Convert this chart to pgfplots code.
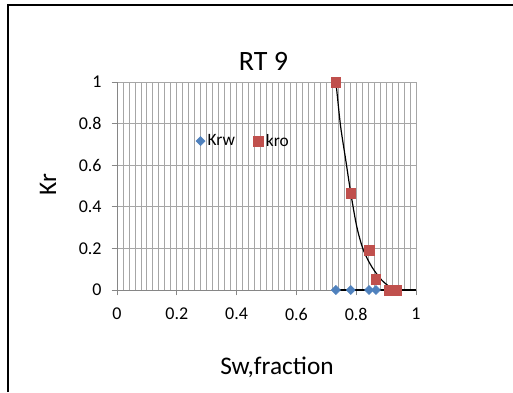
\documentclass[border=0pt]{standalone}
\usepackage{pgfplots}
\pgfplotsset{compat=1.18}
\usepackage{fontspec}
\setmainfont{Carlito}
\definecolor{krw}{HTML}{4F81BD}
\definecolor{kro}{HTML}{C0504D}
\definecolor{gridc}{HTML}{A6A6A6}
\definecolor{axc}{HTML}{868686}
\begin{document}
\begin{tikzpicture}[x=0.75pt,y=0.75pt]
\begin{axis}[
  scale only axis,
  width=224.25pt, height=156pt,
  xmin=0, xmax=1, ymin=0, ymax=1,
  axis x line=bottom, axis y line=left,
  axis line style={-, axc, line width=0.6pt},
  xtick={0,0.2,...,1}, ytick={0,0.2,...,1},
  minor x tick num=9,
  xmajorgrids, xminorgrids, ymajorgrids,
  grid style={gridc, line width=0.6pt},
  minor grid style={gridc, line width=0.6pt},
  major tick length=4pt, minor tick length=0pt,
  tick align=outside,
  tick style={axc, line width=0.6pt},
  xticklabels={0,0.2,0.4,0.6,0.8,1},
  yticklabels={0,0.2,0.4,0.6,0.8,1},
  ticklabel style={font=\fontsize{13.5}{15}\selectfont},
  xticklabel style={yshift=-6pt},
  yticklabel style={xshift=-4pt},
  title={RT 9},
  title style={font=\fontsize{21}{24}\selectfont, at={(rel axis cs:0.49,1.062)}, anchor=center},
  xlabel={Sw,fraction},
  ylabel={Kr},
  label style={font=\fontsize{19}{22}\selectfont},
  xlabel style={at={(rel axis cs:0.535,-0.37)}, anchor=center},
  ylabel style={at={(rel axis cs:-0.231,0.505)}, anchor=center, rotate=0},
  legend style={draw=none, fill=none, at={(rel axis cs:0.25,0.716)}, anchor=west,
    font=\fontsize{13}{15}\selectfont, legend columns=2,
    /tikz/every even column/.append style={column sep=12pt}},
  legend image code/.code={\draw[#1] plot coordinates {(0pt,0pt)};},
  clip=false,
]
\addplot[only marks, mark=square*, mark size=2.4pt, mark options={rotate=45, fill=krw, draw=krw}]
  coordinates {(0.732,0) (0.782,0) (0.843,0) (0.866,0)};
\addlegendentry{Krw}
\addplot[only marks, mark=square*, mark size=3.6pt, mark options={fill=kro, draw=kro}]
  coordinates {(0.732,1) (0.782,0.465) (0.843,0.192) (0.866,0.051) (0.91,0) (0.935,0)};
\addlegendentry{kro}
\addplot[black, line width=0.9pt, smooth, forget plot]
  coordinates {(0.732,1) (0.736,0.946) (0.748,0.785) (0.765,0.625) (0.782,0.465) (0.802,0.304) (0.824,0.192) (0.852,0.112) (0.885,0.048) (0.919,0.008) (0.935,0)};
\addplot[black, line width=0.9pt, forget plot]
  coordinates {(0.73,0) (1,0)};
\coordinate (bl) at (rel axis cs:-0.3913,-0.4904);
\coordinate (tr) at (rel axis cs:1.3244,1.3942);
\coordinate (fc) at (rel axis cs:-0.3645,1.3702);
\end{axis}
\draw[black, line width=1.5pt] (fc |- bl) -- (fc) -- (fc -| tr);
\pgfresetboundingbox
\useasboundingbox (bl) rectangle (tr);
\end{tikzpicture}
\end{document}
